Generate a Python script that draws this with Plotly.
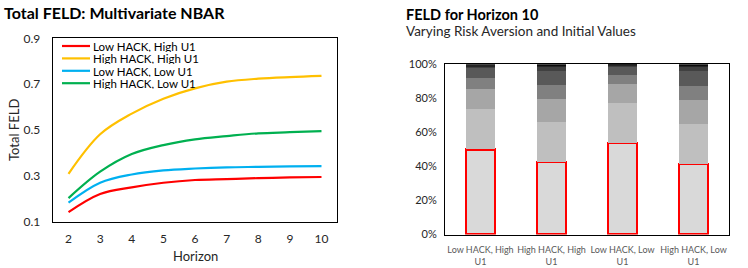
import plotly.graph_objects as go
from plotly.subplots import make_subplots

# ---------------- data ----------------
horizons = [2, 3, 4, 5, 6, 7, 8, 9, 10]
series_names = ["Low HACK, High U1", "High HACK, High U1", "Low HACK, Low U1", "High HACK, Low U1"]
low_hack_high_u1 = [0.143, 0.222, 0.251, 0.271, 0.283, 0.287, 0.291, 0.294, 0.296]
high_hack_high_u1 = [0.310, 0.482, 0.572, 0.637, 0.682, 0.711, 0.724, 0.731, 0.736]
low_hack_low_u1 = [0.184, 0.271, 0.307, 0.325, 0.333, 0.338, 0.340, 0.342, 0.343]
high_hack_low_u1 = [0.204, 0.319, 0.396, 0.435, 0.460, 0.474, 0.486, 0.491, 0.496]
line_colors = ["#FF0000", "#FFC000", "#00B0F0", "#00B050"]

bar_categories = ["Low HACK, High<br>U1", "High HACK, High<br>U1", "Low HACK, Low<br>U1", "High HACK, Low<br>U1"]
seg1 = [50.0, 42.6, 53.9, 41.4]
seg2 = [23.8, 23.6, 23.4, 23.6]
seg3 = [11.7, 13.5, 11.3, 14.1]
seg4 = [6.5, 8.2, 5.3, 8.2]
seg5 = [5.8, 8.2, 4.7, 8.8]
seg6 = [1.0, 2.5, 0.6, 2.5]
seg7 = [0.7, 0.8, 0.5, 0.8]
seg8 = [0.5, 0.6, 0.3, 0.6]
seg_colors = ["#D9D9D9", "#BFBFBF", "#A6A6A6", "#808080", "#595959", "#404040", "#262626", "#0D0D0D"]

FONT = "Lato"
W, H = 748, 268

fig = make_subplots(rows=1, cols=2)

line_series = [low_hack_high_u1, high_hack_high_u1, low_hack_low_u1, high_hack_low_u1]
for name, vals, col in zip(series_names, line_series, line_colors):
    fig.add_trace(go.Scatter(x=horizons, y=vals, mode="lines", name=name,
                             line=dict(color=col, width=2.2, shape="spline", smoothing=1.0),
                             showlegend=False, hoverinfo="skip"), row=1, col=1)

segments = [seg1, seg2, seg3, seg4, seg5, seg6, seg7, seg8]
for i, (seg, col) in enumerate(zip(segments, seg_colors)):
    fig.add_trace(go.Bar(x=bar_categories, y=[v / 100 for v in seg],
                         marker=dict(color=col,
                                     line=dict(color="#FF0000" if i == 0 else col,
                                               width=2.2 if i == 0 else 0)),
                         showlegend=False, hoverinfo="skip"), row=1, col=2)

axis_common = dict(showgrid=False, zeroline=False, showline=True, mirror=True,
                   linecolor="black", linewidth=1, ticks="", automargin=False)

fig.update_layout(
    width=W, height=H, margin=dict(l=0, r=0, t=0, b=0),
    paper_bgcolor="white", plot_bgcolor="white",
    font=dict(family=FONT, color="#000000"),
    barmode="stack", bargap=0.59,
    xaxis=dict(domain=[52.7 / W, 337.3 / W], range=[1.5, 10.5], tickvals=horizons,
               ticklabelstandoff=6,
               tickfont=dict(size=12, color="#262626"), **axis_common),
    yaxis=dict(domain=[(H - 222) / H, (H - 38.3) / H], range=[0.1, 0.9],
               tickvals=[0.1, 0.3, 0.5, 0.7, 0.9], tickformat=".1f", ticklabelstandoff=9,
               tickfont=dict(size=12, color="#262626"), **axis_common),
    xaxis2=dict(domain=[445 / W, 729 / W], tickangle=0, ticklabelstandoff=7,
                tickfont=dict(size=9, color="#595959"), **axis_common),
    yaxis2=dict(domain=[(H - 234.5) / H, (H - 64.3) / H], range=[0, 1], dtick=0.2,
                tickformat=".0%", ticklabelstandoff=5,
                tickfont=dict(size=11, color="#262626"), **axis_common),
)

# axis titles
fig.add_annotation(xref="paper", yref="paper", x=195 / W, y=(H - 256) / H, text="Horizon",
                   showarrow=False, xanchor="center", yanchor="middle",
                   font=dict(size=13, color="#262626"))
fig.add_annotation(xref="paper", yref="paper", x=14 / W, y=(H - 130) / H, text="Total FELD",
                   showarrow=False, xanchor="center", yanchor="middle", textangle=-90,
                   font=dict(size=13, color="#262626"))

# manual compact legend
leg_x0, leg_y0, leg_dy = 62 / W, (H - 46) / H, 12.4 / H
for i, (name, col) in enumerate(zip(series_names, line_colors)):
    yy = leg_y0 - i * leg_dy
    fig.add_shape(type="line", xref="paper", yref="paper", x0=leg_x0, x1=leg_x0 + 28 / W,
                  y0=yy, y1=yy, line=dict(color=col, width=2.2))
    fig.add_annotation(xref="paper", yref="paper", x=leg_x0 + 29 / W, y=yy, text=name,
                       showarrow=False, xanchor="left", yanchor="middle", height=12,
                       font=dict(size=11.5, color="#000000"))

# titles
fig.add_annotation(xref="paper", yref="paper", x=2 / W, y=(H - 12) / H,
                   text="<b>Total FELD: Multivariate NBAR</b>", showarrow=False,
                   xanchor="left", yanchor="middle", font=dict(size=16, color="#000000"))
fig.add_annotation(xref="paper", yref="paper", x=404 / W, y=(H - 14) / H,
                   text="<b>FELD for Horizon 10</b>", showarrow=False,
                   xanchor="left", yanchor="middle", font=dict(size=14.5, color="#000000"))
fig.add_annotation(xref="paper", yref="paper", x=404 / W, y=(H - 31) / H,
                   text="Varying Risk Aversion and Initial Values", showarrow=False,
                   xanchor="left", yanchor="middle", font=dict(size=13.5, color="#262626"))

fig.write_html("out.html", config={"displayModeBar": False},
               post_script="document.body.style.margin='0';document.body.style.padding='0';")
